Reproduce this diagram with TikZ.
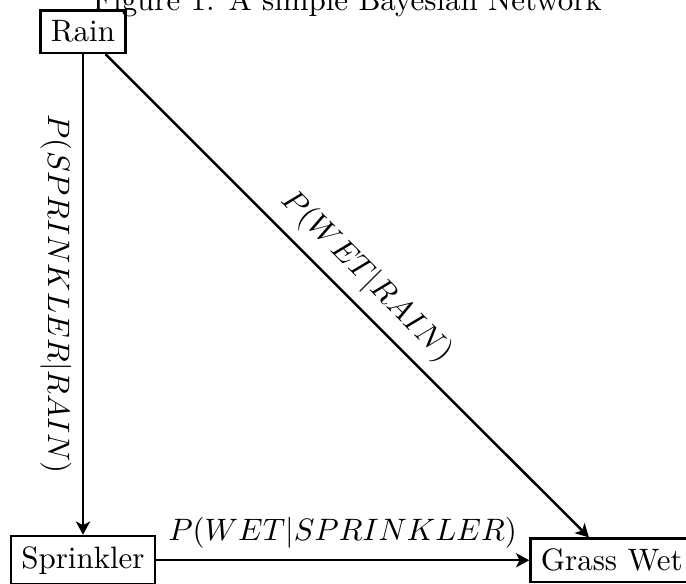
\documentclass[tikz,border=0pt]{standalone}
\usepackage{amsmath}
\usetikzlibrary{arrows.meta, positioning}

\begin{document}
\begin{tikzpicture}[
    >={Stealth[length=1.5mm, width=1.6mm, inset=0.4mm]},
    var/.style  ={draw, thick},
    edge/.style ={->, thick},
    node distance=6cm, on grid,
]
\useasboundingbox (-0.942,-0.26) rectangle (6.843,6.358);
\node[var]                      (sprinkler) {Sprinkler};
\node[var, above=of sprinkler]  (rain)      {Rain};
\node[var, right=of sprinkler]  (wet)       {Grass Wet};
\node (title) at (3,6.33) {Figure 1: A simple Bayesian Network};
\draw[edge] (rain) -- node[midway, below, sloped] {$P(SPRINKLER|RAIN)$} (sprinkler);
\draw[edge] (rain) -- node[midway, above, sloped] {$P(WET|RAIN)$} (wet);
\draw[edge] (sprinkler) -- node[midway, above] {$P(WET|SPRINKLER)$} (wet);
\end{tikzpicture}
\end{document}
